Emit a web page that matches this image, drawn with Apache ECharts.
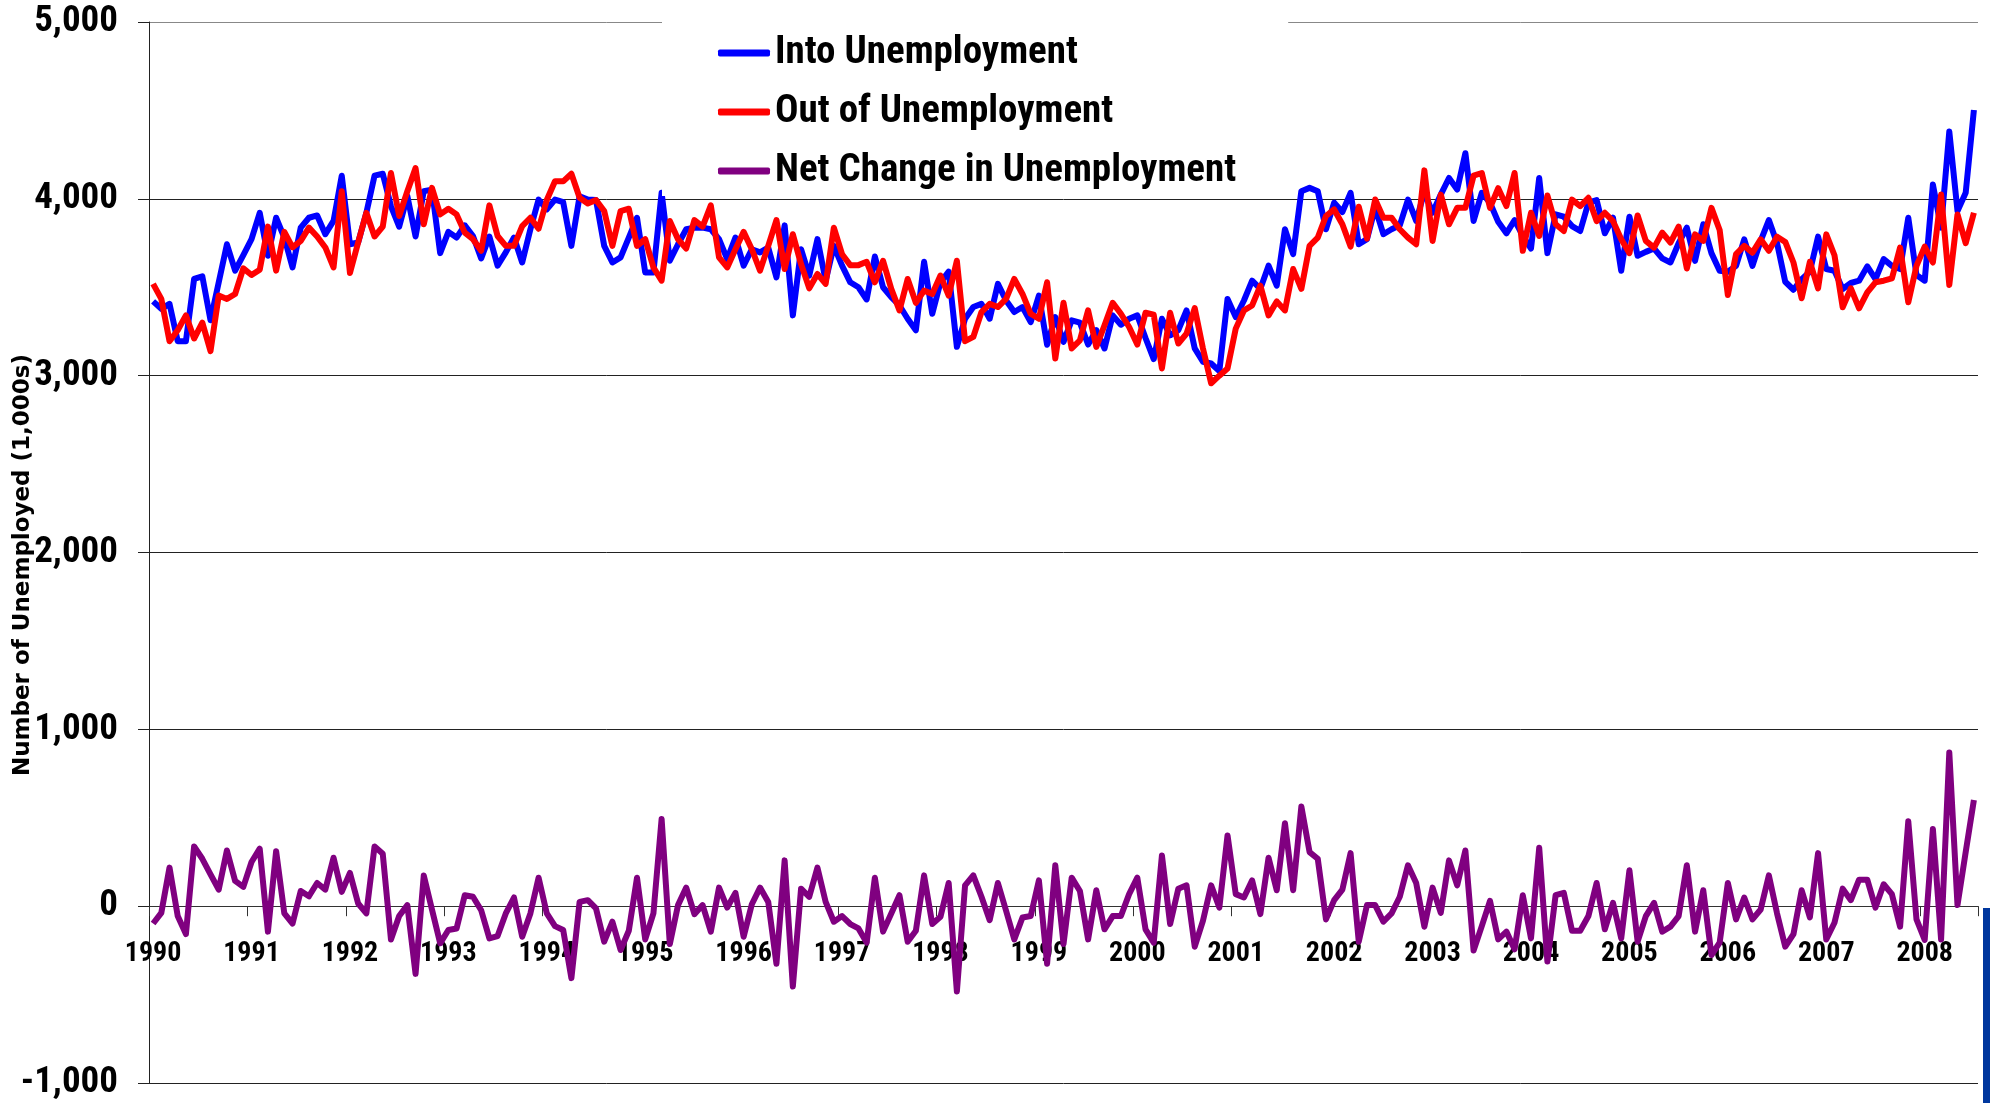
<!DOCTYPE html>
<html>
<head>
<meta charset="utf-8">
<script src="https://cdn.jsdelivr.net/npm/echarts@6/dist/echarts.min.js"></script>
<style>
html,body{margin:0;padding:0;background:#fff;}
#chart{width:1990px;height:1103px;}
</style>
</head>
<body>
<div id="chart"></div>
<script>
// Year tick labels (one per January); monthly data Jan 1990 - Jul 2008
var yearLabels = ['1990','1991','1992','1993','1994','1995','1996','1997','1998','1999','2000','2001','2002','2003','2004','2005','2006','2007','2008'];
var monthNames = ['01','02','03','04','05','06','07','08','09','10','11','12'];

// Into Unemployment (1,000s)
var intoUnemp = [
3420,3378,3406,3195,3195,3547,3562,3313,3528,3743,3594,3682,
3772,3921,3678,3893,3781,3612,3837,3893,3906,3800,3875,4131,
3743,3753,3921,4131,4142,3959,3843,4015,3787,4043,4052,3693,
3813,3781,3850,3790,3663,3787,3622,3697,3781,3640,3828,3996,
3940,3996,3981,3734,4015,3996,3993,3734,3640,3669,3781,3893,
3584,3584,4034,3650,3743,3828,3837,3837,3828,3772,3659,3781,
3622,3715,3697,3725,3556,3850,3341,3715,3566,3772,3537,3734,
3622,3528,3500,3431,3674,3500,3444,3397,3322,3257,3644,3350,
3528,3588,3163,3322,3388,3406,3322,3519,3425,3360,3388,3303,
3453,3175,3331,3191,3313,3300,3176,3257,3154,3341,3288,3322,
3341,3213,3094,3322,3228,3257,3369,3154,3079,3069,3026,3434,
3331,3425,3537,3491,3622,3509,3828,3687,4043,4062,4043,3828,
3978,3925,4034,3743,3772,3949,3800,3828,3850,3996,3875,4040,
3921,4024,4118,4052,4258,3875,4034,3978,3870,3805,3880,3790,
3719,4118,3693,3912,3899,3846,3818,3978,3993,3805,3893,3593,
3899,3678,3700,3719,3663,3640,3749,3837,3649,3856,3693,3593,
3588,3621,3771,3621,3762,3880,3749,3531,3486,3546,3588,3786,
3603,3593,3490,3524,3537,3618,3546,3659,3621,3603,3893,3569,
3537,4081,3837,4381,3931,4034,4502
];

// Out of Unemployment (1,000s)
var outUnemp = [
3519,3434,3195,3257,3341,3210,3300,3139,3453,3434,3462,3607,
3569,3599,3843,3594,3813,3725,3762,3837,3787,3725,3612,4043,
3581,3753,3921,3787,3843,4146,3903,4043,4174,3856,4062,3912,
3944,3912,3809,3772,3706,3963,3790,3734,3734,3846,3893,3831,
3993,4099,4099,4142,4006,3974,3993,3931,3734,3931,3944,3734,
3772,3612,3537,3875,3772,3719,3880,3843,3963,3669,3612,3715,
3813,3715,3594,3734,3880,3603,3800,3631,3494,3575,3519,3837,
3687,3625,3625,3644,3528,3650,3491,3369,3547,3412,3481,3462,
3566,3453,3650,3195,3219,3360,3406,3388,3434,3547,3462,3350,
3322,3528,3097,3412,3154,3200,3369,3163,3285,3412,3350,3275,
3176,3356,3345,3041,3356,3182,3238,3382,3154,2957,3000,3041,
3266,3369,3397,3509,3341,3420,3369,3603,3491,3734,3781,3903,
3940,3856,3730,3955,3775,3996,3893,3893,3828,3781,3743,4161,
3762,4024,3856,3949,3949,4131,4146,3949,4060,3959,4146,3706,
3921,3790,4019,3856,3818,3996,3959,4006,3874,3921,3874,3771,
3693,3906,3762,3724,3809,3753,3843,3606,3799,3762,3949,3824,
3456,3687,3734,3696,3771,3706,3786,3756,3640,3438,3644,3494,
3799,3681,3387,3494,3381,3471,3528,3537,3550,3724,3415,3621,
3730,3640,4024,3513,3912,3749,3921
];

// Net Change in Unemployment (1,000s)
var netChange = [
-98,-38,218,-56,-158,338,268,180,94,315,143,109,
250,325,-144,311,-41,-98,86,56,131,94,274,81,
188,15,-41,338,296,-188,-56,6,-383,174,-19,-210,
-135,-126,62,53,-23,-182,-169,-41,49,-173,-41,161,
-41,-113,-135,-407,24,34,-13,-201,-88,-248,-139,161,
-188,-41,493,-214,6,105,-45,6,-144,105,-8,75,
-173,11,105,24,-326,259,-454,99,53,218,24,-88,
-56,-101,-126,-206,161,-144,-41,62,-201,-139,174,-101,
-60,131,-482,118,174,53,-79,131,-26,-188,-64,-56,
146,-326,231,-214,161,86,-188,90,-131,-56,-56,68,
161,-131,-206,287,-101,99,118,-229,-83,118,-8,400,
68,49,146,-45,274,90,469,90,563,306,268,-75,
34,94,300,-201,6,6,-88,-41,53,231,131,-116,
105,-38,259,118,315,-251,-113,30,-188,-144,-244,62,
-182,330,-313,62,75,-139,-139,-56,131,-131,19,-182,
203,-201,-56,19,-144,-116,-56,231,-144,90,-276,-206,
131,-75,49,-75,-19,174,-41,-229,-158,90,-64,300,
-188,-94,99,34,150,150,-8,124,68,-116,480,-75,
-191,437,-188,869,6,306,600
];

var seriesNames = ['Into Unemployment','Out of Unemployment','Net Change in Unemployment'];
var seriesColors = ['#0000FF','#FF0000','#800080'];
var yTitle = 'Number of Unemployed (1,000s)';

// month categories
var categories = [];
for (var i = 0; i < intoUnemp.length; i++) {
  categories.push(yearLabels[Math.floor(i / 12)] + '-' + monthNames[i % 12]);
}

var narrow = "'Roboto Condensed','Liberation Sans Narrow','Arial Narrow','DejaVu Sans Condensed',sans-serif";

var chart = echarts.init(document.getElementById('chart'), null, {renderer: 'canvas'});
var option = {
  animation: false,
  backgroundColor: '#ffffff',
  grid: {left: 149, right: 12, top: 22, bottom: 20, containLabel: false, outerBoundsMode: 'none'},
  legend: {
    orient: 'vertical',
    left: 662,
    top: 19,
    data: seriesNames,
    backgroundColor: '#ffffff',
    padding: [13, 52, 4, 56],
    itemWidth: 52,
    itemHeight: 7,
    itemGap: 17,
    itemTextGap: 7,
    icon: 'roundRect',
    selectedMode: false,
    textStyle: {fontFamily: narrow, fontWeight: 'bold', fontSize: 39, color: '#000', lineHeight: 42}
  },
  xAxis: {
    type: 'category',
    data: categories,
    boundaryGap: true,
    offset: -176.8,
    axisLine: {onZero: false, lineStyle: {color: '#333', width: 1}},
    axisTick: {show: true, interval: 11, length: 10, lineStyle: {color: '#333'}},
    axisLabel: {
      interval: 11,
      margin: 34,
      fontFamily: narrow,
      fontWeight: 'bold',
      fontSize: 28,
      color: '#000',
      formatter: function (v) { return v.slice(0, 4); }
    },
    splitLine: {show: false}
  },
  yAxis: {
    type: 'value',
    min: -1000,
    max: 5000,
    interval: 1000,
    axisLine: {show: true, lineStyle: {color: '#222', width: 1}},
    axisTick: {show: true, length: 11, lineStyle: {color: '#222'}},
    axisLabel: {
      margin: 31,
      fontFamily: narrow,
      fontWeight: 'bold',
      fontSize: 37,
      color: '#000',
      formatter: function (v) { return v.toLocaleString('en-US'); }
    },
    splitLine: {show: true, lineStyle: {color: ['#222','#222','#222','#222','#222','#222','#888'], width: 1}}
  },
  series: [
    {name: seriesNames[0], type: 'line', data: intoUnemp, showSymbol: false, symbol: 'none',
     lineStyle: {color: seriesColors[0], width: 6, join: 'round'}, itemStyle: {color: seriesColors[0]}},
    {name: seriesNames[1], type: 'line', data: outUnemp, showSymbol: false, symbol: 'none',
     lineStyle: {color: seriesColors[1], width: 6, join: 'round'}, itemStyle: {color: seriesColors[1]}},
    {name: seriesNames[2], type: 'line', data: netChange, showSymbol: false, symbol: 'none',
     lineStyle: {color: seriesColors[2], width: 6, join: 'round'}, itemStyle: {color: seriesColors[2]}}
  ],
  graphic: [
    {type: 'text', x: 23, y: 565, rotation: Math.PI / 2,
     style: {text: yTitle, font: "bold 23px 'DejaVu Sans', sans-serif", fill: '#000', align: 'center', verticalAlign: 'middle'}},
    {type: 'rect', right: 0, bottom: 0, shape: {width: 7, height: 195}, style: {fill: '#00379e'}, z: 10}
  ]
};
chart.setOption(option);
</script>
</body>
</html>
